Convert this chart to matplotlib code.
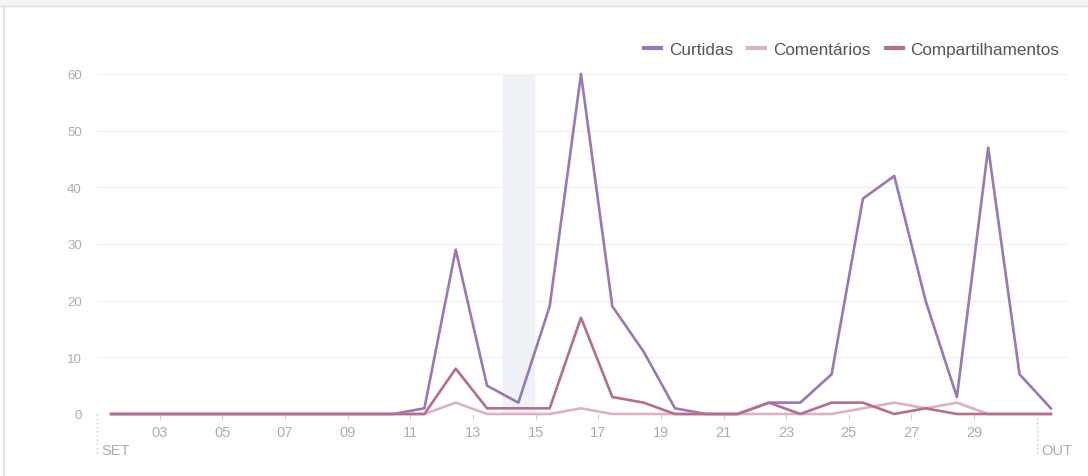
import numpy as np
import matplotlib
matplotlib.use("Agg")
import matplotlib.pyplot as plt
from matplotlib.patches import Rectangle
from matplotlib.lines import Line2D

# interações diárias, 01/set a 01/out
dias = np.arange(1, 32)
curtidas = [0, 0, 0, 0, 0, 0, 0, 0, 0, 0, 1, 29, 5, 2, 19, 60, 19, 11, 1, 0,
            0, 2, 2, 7, 38, 42, 20, 3, 47, 7, 1]
comentarios = [0, 0, 0, 0, 0, 0, 0, 0, 0, 0, 0, 2, 0, 0, 0, 1, 0, 0, 0, 0,
               0, 0, 0, 0, 1, 2, 1, 2, 0, 0, 0]
compartilhamentos = [0, 0, 0, 0, 0, 0, 0, 0, 0, 0, 0, 8, 1, 1, 1, 17, 3, 2, 0, 0,
                     0, 2, 0, 2, 2, 0, 1, 0, 0, 0, 0]
tick_dias = [3, 5, 7, 9, 11, 13, 15, 17, 19, 21, 23, 25, 27, 29]
tick_labels = ["03", "05", "07", "09", "11", "13", "15", "17", "19", "21",
               "23", "25", "27", "29"]
y_ticks = [0, 10, 20, 30, 40, 50, 60]

cor_curtidas = "#9878b6"
cor_comentarios = "#dcb2c3"
cor_compart = "#b36f8c"
cinza = "#adadad"

plt.rcParams["font.family"] = ["Liberation Sans", "DejaVu Sans"]

fig = plt.figure(figsize=(10.88, 4.77), dpi=100)
ax = fig.add_axes([0.0892, 0.130, 0.8925, 0.7128])

# moldura do painel
fig.patches.append(Rectangle((0, 0.986), 1, 0.014, transform=fig.transFigure,
                             facecolor="#f3f4f7", edgecolor="none"))
fig.lines.append(Line2D([0, 1], [0.986, 0.986], transform=fig.transFigure,
                        color="#dedede", lw=1))
fig.lines.append(Line2D([0.004, 0.004], [0, 0.986], transform=fig.transFigure,
                        color="#e2e2e2", lw=1.5))

# pontos registrados perto do meio-dia
x = dias + 0.45

ax.axvspan(13.95, 14.95, color="#eef1f6", zorder=0)

ax.plot(x, comentarios, color=cor_comentarios, lw=1.9, label="Comentários",
        clip_on=False, zorder=3)
ax.plot(x, compartilhamentos, color=cor_compart, lw=1.9, label="Compartilhamentos",
        clip_on=False, zorder=4)
ax.plot(x, curtidas, color=cor_curtidas, lw=1.9, label="Curtidas",
        clip_on=False, zorder=2)

ax.set_xlim(1.0, 32.0)
ax.set_ylim(0, 60)
ax.set_yticks(y_ticks)
ax.set_yticklabels([str(v) for v in y_ticks])
ax.set_xticks(tick_dias)
ax.set_xticklabels(tick_labels)
ax.grid(axis="y", color="#efefef", lw=0.8)
ax.set_axisbelow(True)
for s in ax.spines.values():
    s.set_visible(False)
ax.axhline(0, color="#e8e8e8", lw=0.8, zorder=1)
ax.tick_params(axis="y", length=0, pad=11, labelsize=9.5, labelcolor=cinza)
ax.tick_params(axis="x", length=4, width=0.8, color="#d5d5d5", pad=4,
               labelsize=10.5, labelcolor=cinza)

# separadores de mês
for pos, mes in [(1.0, "SET"), (31.0, "OUT")]:
    ax.plot([pos, pos], [0, -7.5], color="#c8c8c8", lw=1, ls=(0, (1, 2)),
            clip_on=False)
    ax.text(pos + 0.15, -6.4, mes, color=cinza, fontsize=10.5, ha="left",
            va="center", clip_on=False)

h, l = ax.get_legend_handles_labels()
ordem = [2, 0, 1]
ax.legend([h[i] for i in ordem], [l[i] for i in ordem], loc="lower right",
          bbox_to_anchor=(0.998, 1.03), ncol=3, frameon=False, fontsize=12.3,
          handlelength=1.0, handletextpad=0.45, columnspacing=0.9,
          labelcolor="#555555", borderaxespad=0)
for line in ax.get_legend().get_lines():
    line.set_linewidth(3)

fig.savefig("out.png", dpi=100)
